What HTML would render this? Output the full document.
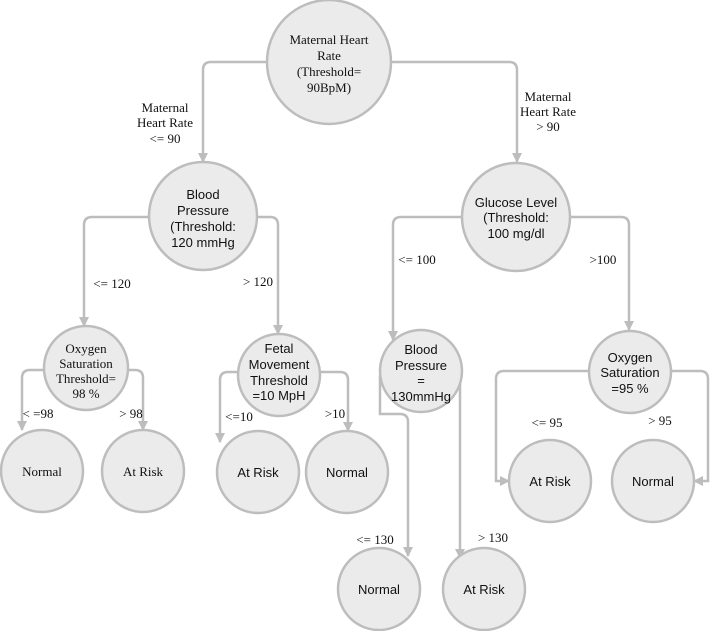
<!DOCTYPE html>
<html><head><meta charset="utf-8"><style>
html,body{margin:0;padding:0;background:#fff}
svg{display:block}
.s{font-family:"Liberation Serif",serif;font-size:13px;fill:#111}
.a{font-family:"Liberation Sans",sans-serif;font-size:13px;fill:#111}
circle{fill:#ebebeb;stroke:#bdbdbd;stroke-width:2.5}
path.l{fill:none;stroke:#bdbdbd;stroke-width:2.5}
</style></head><body>
<svg width="710" height="631" viewBox="0 0 710 631">
<defs><marker id="ar" markerWidth="10" markerHeight="10" refX="9" refY="5" orient="auto" markerUnits="userSpaceOnUse"><path d="M0,0 L10,5 L0,10 z" fill="#bdbdbd"/></marker></defs>
<g>
<path class="l" marker-end="url(#ar)" d="M266,62 H211 Q203,62 203,70 V162"/>
<path class="l" marker-end="url(#ar)" d="M392,62 H509 Q517,62 517,70 V162"/>
<path class="l" marker-end="url(#ar)" d="M149,217 H92 Q84,217 84,225 V326"/>
<path class="l" marker-end="url(#ar)" d="M257,217 H270 Q278,217 278,225 V334"/>
<path class="l" marker-end="url(#ar)" d="M462,217 H401 Q393,217 393,225 V340"/>
<path class="l" marker-end="url(#ar)" d="M571,217 H621 Q629,217 629,225 V330"/>
<path class="l" marker-end="url(#ar)" d="M44,370 H30 Q22,370 22,378 V430"/>
<path class="l" marker-end="url(#ar)" d="M126,370 H135 Q143,370 143,378 V430"/>
<path class="l" marker-end="url(#ar)" d="M240,372 H228 Q220,372 220,380 V442"/>
<path class="l" marker-end="url(#ar)" d="M320,372 H340 Q348,372 348,380 V431"/>
<path class="l" marker-end="url(#ar)" d="M380,375 V414 H400 Q408,414 408,422 V556"/>
<path class="l" marker-end="url(#ar)" d="M460,372 V558"/>
<path class="l" marker-end="url(#ar)" d="M589,371 H504 Q496,371 496,379 V481 H509"/>
<path class="l" marker-end="url(#ar)" d="M671,371 H700 Q708,371 708,379 V481 H694"/>
</g>
<circle cx="329" cy="62" r="62"/>
<circle cx="203" cy="216" r="54"/>
<circle cx="516" cy="217" r="54"/>
<circle cx="86" cy="368" r="42"/>
<circle cx="279" cy="375" r="41"/>
<circle cx="421" cy="371" r="41"/>
<circle cx="630" cy="372" r="41"/>
<circle cx="42" cy="471" r="41"/>
<circle cx="143" cy="471" r="41"/>
<circle cx="258" cy="472" r="41"/>
<circle cx="347" cy="472" r="41"/>
<circle cx="550" cy="481" r="41"/>
<circle cx="653" cy="481" r="41"/>
<circle cx="379" cy="589" r="41"/>
<circle cx="484" cy="589" r="41"/>
<g class="s" text-anchor="middle">
<text x="329" y="44">Maternal Heart</text><text x="329" y="60">Rate</text><text x="329" y="76">(Threshold=</text><text x="329" y="92">90BpM)</text>
<text x="86" y="353">Oxygen</text><text x="86" y="368">Saturation</text><text x="86" y="383">Threshold=</text><text x="86" y="398">98 %</text>
<text x="42" y="476">Normal</text><text x="143" y="476">At Risk</text>
<text x="165" y="112">Maternal</text><text x="165" y="127">Heart Rate</text><text x="165" y="143">&lt;= 90</text>
<text x="548" y="101">Maternal</text><text x="548" y="116">Heart Rate</text><text x="548" y="131">&gt; 90</text>
<text x="112" y="288">&lt;= 120</text><text x="258" y="286">&gt; 120</text>
<text x="417" y="264">&lt;= 100</text><text x="603" y="264">&gt;100</text>
<text x="38" y="418">&lt; =98</text><text x="131" y="418">&gt; 98</text>
<text x="239" y="421">&lt;=10</text><text x="335" y="418">&gt;10</text>
<text x="547" y="427">&lt;= 95</text><text x="660" y="425">&gt; 95</text>
<text x="375" y="544">&lt;= 130</text><text x="493" y="542">&gt; 130</text>
</g>
<g class="a" text-anchor="middle">
<text x="203" y="199">Blood</text><text x="203" y="215">Pressure</text><text x="203" y="231">(Threshold:</text><text x="203" y="247">120 mmHg</text>
<text x="516" y="207">Glucose Level</text><text x="516" y="222">(Threshold:</text><text x="516" y="238">100 mg/dl</text>
<text x="279" y="353">Fetal</text><text x="279" y="369">Movement</text><text x="279" y="385">Threshold</text><text x="279" y="400">=10 MpH</text>
<text x="421" y="354">Blood</text><text x="421" y="370">Pressure</text><text x="421" y="385">=</text><text x="421" y="401">130mmHg</text>
<text x="630" y="362">Oxygen</text><text x="630" y="377">Saturation</text><text x="630" y="393">=95 %</text>
<text x="258" y="477">At Risk</text><text x="347" y="477">Normal</text>
<text x="550" y="486">At Risk</text><text x="653" y="486">Normal</text>
<text x="379" y="594">Normal</text><text x="484" y="594">At Risk</text>
</g>
</svg>
</body></html>
